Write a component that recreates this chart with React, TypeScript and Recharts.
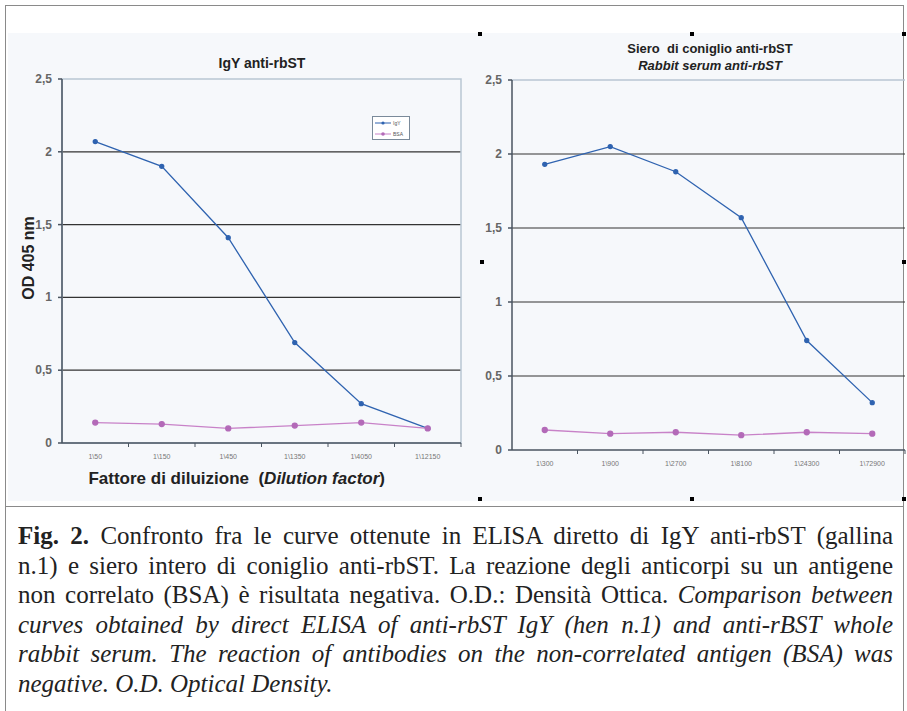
import React from 'react';
import { LineChart, Line, XAxis, YAxis, CartesianGrid, ReferenceLine, ReferenceArea } from 'recharts';

const leftCategories = ['1\\50', '1\\150', '1\\450', '1\\1350', '1\\4050', '1\\12150'];
const leftIgY = [2.07, 1.9, 1.41, 0.69, 0.27, 0.1];
const leftBSA = [0.14, 0.13, 0.1, 0.12, 0.14, 0.1];

const rightCategories = ['1\\300', '1\\900', '1\\2700', '1\\8100', '1\\24300', '1\\72900'];
const rightSerum = [1.93, 2.05, 1.88, 1.57, 0.74, 0.32];
const rightBSA = [0.135, 0.11, 0.12, 0.1, 0.12, 0.11];

const yTicks = [0, 0.5, 1, 1.5, 2, 2.5];
const gridValues = [0.5, 1, 1.5, 2];

const leftData = leftCategories.map((c, i) => ({ cat: c, igy: leftIgY[i], bsa: leftBSA[i] }));
const rightData = rightCategories.map((c, i) => ({ cat: c, serum: rightSerum[i], bsa: rightBSA[i] }));

const BLUE = '#2f63b0';
const PINK = '#c882c8';
const AXIS = '#4a5560';

const fmt = (v: number) => String(v).replace('.', ',');

const XTick = (props: any) => {
  const { x, y, payload } = props;
  const off = payload && payload.offset ? payload.offset : 0;
  return (
    <g>
      <line x1={x + off} y1={y - 8} x2={x + off} y2={y - 4} stroke={AXIS} strokeWidth={1} />
      <text x={x} y={y + 8} textAnchor="middle" fontSize={7} fill="#777" fontFamily="Liberation Sans, Arial, sans-serif">
        {payload.value}
      </text>
    </g>
  );
};

const YTick = (props: any) => {
  const { x, y, payload } = props;
  return (
    <text x={x - 4} y={y + 4} textAnchor="end" fontSize={12} fontWeight="bold" fill="#666" fontFamily="Liberation Sans, Arial, sans-serif">
      {fmt(payload.value)}
    </text>
  );
};

const Handle = ({ left, top }: { left: number; top: number }) => (
  <div style={{ position: 'absolute', left, top, width: 4, height: 4, background: '#000' }} />
);

const titleStyle: React.CSSProperties = {
  position: 'absolute',
  fontFamily: 'Liberation Sans, Arial, sans-serif',
  fontWeight: 'bold',
  fontSize: 13,
  color: '#222',
  textAlign: 'center',
  whiteSpace: 'nowrap',
};

const capLine: React.CSSProperties = {
  textAlign: 'justify',
  textAlignLast: 'justify',
  whiteSpace: 'nowrap',
  height: 29.5,
};

export default function App() {
  return (
    <div style={{ position: 'relative', width: 907, height: 711, background: '#fff', overflow: 'hidden' }}>
      <style>{'body{margin:0}'}</style>
      {/* frame */}
      <div style={{ position: 'absolute', left: 5, top: 5, width: 897, height: 720, border: '1.5px solid #8a8a8a' }} />
      <div style={{ position: 'absolute', left: 5, top: 506, width: 899, height: 0, borderTop: '1.5px solid #8a8a8a' }} />
      {/* light background of chart area */}
      <div style={{ position: 'absolute', left: 8, top: 33, width: 895, height: 468, background: '#f6f8fb' }} />

      {/* left chart */}
      <div style={{ position: 'absolute', left: 0, top: 0 }}>
        <LineChart width={470} height={500} data={leftData} margin={{ top: 79, right: 9, left: 32, bottom: 27 }}>
          <ReferenceArea y1={0} y2={2.5} fill="none" stroke="#b9c6d3" strokeWidth={1.5} ifOverflow="visible" />
          <CartesianGrid horizontal vertical={false} horizontalValues={gridValues} stroke="#333" strokeWidth={1.2} />
          <XAxis dataKey="cat" scale="band" interval={0} tick={<XTick />} tickLine={false} stroke={AXIS} strokeWidth={1.5} height={30} />
          <YAxis domain={[0, 2.5]} ticks={yTicks} tick={<YTick />} width={30} stroke={AXIS} strokeWidth={1.5} tickSize={4} allowDataOverflow />
          <Line dataKey="igy" name="IgY" stroke={BLUE} strokeWidth={1.3} dot={{ r: 2, fill: BLUE, stroke: BLUE }} isAnimationActive={false} />
          <Line dataKey="bsa" name="BSA" stroke={PINK} strokeWidth={1.3} dot={{ r: 2.5, fill: '#b36ab8', stroke: '#b36ab8' }} isAnimationActive={false} />
        </LineChart>
      </div>

      {/* right chart */}
      <div style={{ position: 'absolute', left: 470, top: 0 }}>
        <LineChart width={437} height={500} data={rightData} margin={{ top: 80, right: 2, left: 12, bottom: 20 }}>
          <ReferenceLine y={2.5} stroke="#b9c6d3" strokeWidth={1.5} />
          <CartesianGrid horizontal vertical={false} horizontalValues={gridValues} stroke="#333" strokeWidth={1.2} />
          <XAxis dataKey="cat" scale="band" interval={0} tick={<XTick />} tickLine={false} stroke={AXIS} strokeWidth={1.5} height={30} />
          <YAxis domain={[0, 2.5]} ticks={yTicks} tick={<YTick />} width={30} stroke={AXIS} strokeWidth={1.5} tickSize={4} />
          <Line dataKey="serum" name="Serum" stroke={BLUE} strokeWidth={1.3} dot={{ r: 2, fill: BLUE, stroke: BLUE }} isAnimationActive={false} />
          <Line dataKey="bsa" name="BSA" stroke={PINK} strokeWidth={1.3} dot={{ r: 2.5, fill: '#b36ab8', stroke: '#b36ab8' }} isAnimationActive={false} />
        </LineChart>
      </div>

      {/* legend */}
      <div style={{ position: 'absolute', left: 372, top: 116, width: 36, height: 22, border: '1px solid #7a8a9a', background: '#fff', fontFamily: 'Liberation Sans, Arial, sans-serif', fontSize: 5, color: '#555' }}>
        <div style={{ display: 'flex', alignItems: 'center', height: 11 }}>
          <svg width={20} height={6}><line x1={2} y1={3} x2={18} y2={3} stroke={BLUE} strokeWidth={1} /><circle cx={10} cy={3} r={1.6} fill={BLUE} /></svg>
          <span>IgY</span>
        </div>
        <div style={{ display: 'flex', alignItems: 'center', height: 11 }}>
          <svg width={20} height={6}><line x1={2} y1={3} x2={18} y2={3} stroke={PINK} strokeWidth={1} /><circle cx={10} cy={3} r={1.8} fill="#b36ab8" /></svg>
          <span>BSA</span>
        </div>
      </div>

      {/* titles */}
      <div style={{ ...titleStyle, left: 200, top: 55, width: 124, fontSize: 14 }}>IgY anti-rbST</div>
      <div style={{ ...titleStyle, left: 600, top: 40, width: 220, lineHeight: '17px' }}>
        Siero&nbsp;&nbsp;di coniglio anti-rbST<br />
        <i>Rabbit serum anti-rbST</i>
      </div>
      <div style={{ ...titleStyle, left: 29, top: 258, fontSize: 16, transform: 'translate(-50%,-50%) rotate(-90deg)' }}>OD 405 nm</div>
      <div style={{ ...titleStyle, left: 40, top: 469, width: 345, fontSize: 17, textAlign: 'right' }}>
        Fattore di diluizione&nbsp;&nbsp;(<i>Dilution factor</i>)
      </div>

      {/* picture handles */}
      <Handle left={478} top={32} />
      <Handle left={690} top={32} />
      <Handle left={902} top={32} />
      <Handle left={480} top={260} />
      <Handle left={902} top={260} />
      <Handle left={478} top={497} />
      <Handle left={690} top={497} />
      <Handle left={902} top={497} />

      {/* caption */}
      <div style={{ position: 'absolute', left: 18, top: 521, width: 875, fontFamily: 'Liberation Serif, Times New Roman, serif', fontSize: 25, lineHeight: '29.5px', color: '#222' }}>
        <div style={capLine}><b>Fig. 2.</b> Confronto fra le curve ottenute in ELISA diretto di IgY anti-rbST (gallina</div>
        <div style={capLine}>n.1) e siero intero di coniglio anti-rbST. La reazione degli anticorpi su un antigene</div>
        <div style={capLine}>non correlato (BSA) è risultata negativa. O.D.: Densità Ottica. <i>Comparison between</i></div>
        <div style={{ ...capLine, fontStyle: 'italic' }}>curves obtained by direct ELISA of anti-rbST IgY (hen n.1) and anti-rBST whole</div>
        <div style={{ ...capLine, fontStyle: 'italic' }}>rabbit serum. The reaction of antibodies on the non-correlated antigen (BSA) was</div>
        <div style={{ height: 29.5, fontStyle: 'italic', whiteSpace: 'nowrap' }}>negative. O.D. Optical Density.</div>
      </div>
    </div>
  );
}
